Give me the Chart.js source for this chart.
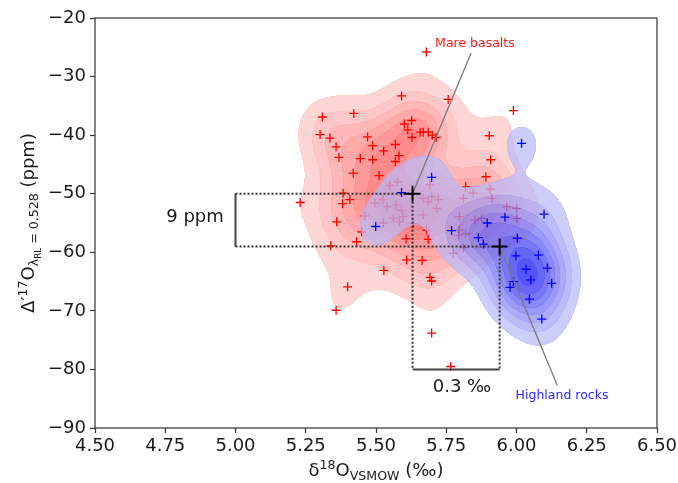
<!DOCTYPE html>
<html><head><meta charset="utf-8">
<script src="https://cdn.jsdelivr.net/npm/chart.js@4.4.0/dist/chart.umd.min.js"></script>
<style>html,body{margin:0;padding:0;background:#fff}#wrap{width:678px;height:483px;position:relative}</style>
</head><body><div id="wrap"><canvas id="c" width="678" height="483"></canvas></div>
<script>
// ---------------- data ----------------
const redX = [5.679,5.591,5.757,5.989,5.309,5.421,5.301,5.336,5.358,5.368,5.470,5.488,5.444,5.488,5.527,5.569,5.582,5.569,5.601,5.627,
  5.613,5.628,5.657,5.668,5.686,5.700,5.714,5.419,5.511,5.903,5.908,5.891,5.819,5.383,5.407,5.381,5.360,5.431,5.339,5.607,
  5.686,5.230,5.633,5.609,5.664,5.528,5.692,5.698,5.399,5.358,5.698,5.766,5.550,5.576,5.496,5.524,5.540,5.571,5.562,5.583,
  5.526,5.461,5.449,5.722,5.680,5.811,5.846,5.906,5.912,5.965,6.001,6.001,5.852,5.796,5.819,5.775,5.811,5.668,5.686,
  5.698,5.716,5.668,5.597,5.591,5.692,5.797,5.876,5.793];
const redY = [-25.8,-33.3,-33.9,-35.8,-36.9,-36.3,-39.9,-40.5,-42.0,-43.8,-40.3,-41.8,-44.0,-44.2,-42.7,-41.6,-43.5,-44.5,-38.1,-37.5,
  -39.1,-40.4,-39.5,-39.5,-39.5,-40.0,-40.4,-46.5,-46.9,-40.1,-44.2,-47.1,-48.8,-49.9,-51.0,-51.7,-54.8,-58.2,-58.9,-57.7,
  -57.8,-51.5,-55.1,-61.3,-61.4,-63.1,-64.3,-64.9,-65.9,-69.9,-73.8,-79.5,-48.6,-48.0,-51.6,-51.0,-52.2,-51.9,-54.2,-54.8,
  -55.0,-53.8,-56.5,-51.0,-56.2,-50.8,-49.9,-49.2,-50.8,-52.2,-52.5,-54.2,-54.5,-56.2,-56.8,-60.2,-59.2,-50.8,-51.4,
  -50.5,-52.5,-53.6,-53.9,-52.8,-48.5,-53.9,-54.2,-57.1];
const blueX = [6.018,5.591,5.698,5.499,5.769,5.896,5.959,6.098,5.864,5.882,6.003,5.998,6.078,6.034,6.110,6.051,6.125,5.977,5.989,6.046,6.090];
const blueY = [-41.4,-49.8,-47.2,-55.6,-56.3,-55.0,-54.0,-53.5,-57.5,-58.6,-57.6,-60.6,-60.5,-62.9,-62.7,-64.7,-65.3,-66.0,-65.0,-68.0,-71.4];
const meanX = [5.63, 5.94];
const meanY = [-50, -59];
const bracketX = 5.0;
const bracketBottom = -80;
const xTicks = [4.5,4.75,5.0,5.25,5.5,5.75,6.0,6.25,6.5];
const xTickLabels = ['4.50','4.75','5.00','5.25','5.50','5.75','6.00','6.25','6.50'];
const yTicks = [-90,-80,-70,-60,-50,-40,-30,-20];
const yTickLabels = ['\u221290','\u221280','\u221270','\u221260','\u221250','\u221240','\u221230','\u221220'];
const noteText = ['9 ppm', '0.3 \u2030', 'Mare basalts', 'Highland rocks'];
const noteX = [4.856, 5.806, 5.852, 6.162];
const noteY = [-54.8, -83.8, -24.95, -85.05];
const pointerMare = [5.838, -26.0];
const pointerHigh = [6.145, -82.7];

const FONT = '"DejaVu Sans", "Liberation Sans", sans-serif';
const pts = (xs, ys) => xs.map((x, i) => ({x, y: ys[i]}));
const seg = (x1, y1, x2, y2) => [{x: x1, y: y1}, {x: x2, y: y2}];

const dotted = {showLine: true, pointRadius: 0, borderColor: '#333', borderWidth: 2, borderDash: [2, 2], borderCapStyle: 'butt', fill: false, order: 3};
const solid = {showLine: true, pointRadius: 0, borderColor: '#444', borderWidth: 2, fill: false, order: 3};
const pointer = {showLine: true, pointRadius: 0, borderColor: '#7a7a7a', borderWidth: 1.3, fill: false, order: 2};

const datasets = [
  {label: 'Mare basalts', data: pts(redX, redY), showLine: false, pointStyle: 'cross', pointRadius: 4.5,
   pointBorderColor: '#ff0000', pointBorderWidth: 1.3, order: 6,
   kde: {c0: [255, 214, 214], c1: [255, 108, 108], alpha: 1}},
  {label: 'Highland rocks', data: pts(blueX, blueY), showLine: false, pointStyle: 'cross', pointRadius: 4.5,
   pointBorderColor: '#0000ff', pointBorderWidth: 1.3, order: 4,
   kde: {c0: [186, 186, 248], c1: [20, 20, 242], alpha: 0.72}},
  Object.assign({label: 'g1', data: seg(bracketX, meanY[0], meanX[0], meanY[0])}, dotted),
  Object.assign({label: 'g2', data: seg(meanX[0], meanY[0], meanX[0], bracketBottom)}, dotted),
  Object.assign({label: 'g3', data: seg(bracketX, meanY[1], meanX[1], meanY[1])}, dotted),
  Object.assign({label: 'g4', data: seg(meanX[1], meanY[1], meanX[1], bracketBottom)}, dotted),
  Object.assign({label: 'g5', data: seg(bracketX, meanY[0], bracketX, meanY[1])}, solid),
  Object.assign({label: 'g6', data: seg(meanX[0], bracketBottom, meanX[1], bracketBottom)}, solid),
  Object.assign({label: 'p1', data: seg(pointerMare[0], pointerMare[1], meanX[0], meanY[0])}, pointer),
  Object.assign({label: 'p2', data: seg(meanX[1], meanY[1], pointerHigh[0], pointerHigh[1])}, pointer),
  {label: 'means', data: pts(meanX, meanY), showLine: false, pointStyle: 'cross', pointRadius: 8,
   pointBorderColor: '#000', pointBorderWidth: 2, order: 1}
];

// ---------------- KDE (product Gaussian, Scott bandwidth per axis, linear "nice" levels) ----------------
function quantile(sortedArr, p) {
  const pos = (sortedArr.length - 1)*p, lo = Math.floor(pos), hi = Math.ceil(pos);
  return sortedArr[lo] + (sortedArr[hi] - sortedArr[lo])*(pos - lo);
}
function scottBw(v) {
  const n = v.length, m = v.reduce((s, t) => s + t, 0)/n;
  const sd = Math.sqrt(v.reduce((s, t) => s + (t - m)*(t - m), 0)/(n - 1));
  const s = v.slice().sort((a, b) => a - b);
  const iqr = (quantile(s, 0.75) - quantile(s, 0.25))/1.349;
  return 1.059*Math.min(sd, iqr)*Math.pow(n, -0.2);
}
function niceLevels(vmax, nbins) {
  const raw = vmax/nbins, sc = Math.pow(10, Math.floor(Math.log10(raw)));
  for (const m of [1, 2, 2.5, 5, 10, 20]) {
    const step = m*sc, k = Math.ceil(vmax/step - 1e-9);
    if (k <= nbins) { const out = []; for (let i = 0; i <= k; i++) out.push(i*step); return out; }
  }
}
const kdeCache = new Map();
function buildKde(chart, xs, ys, st) {
  const a = chart.chartArea, sx = chart.scales.x, sy = chart.scales.y;
  const L = Math.round(a.left), T = Math.round(a.top);
  const W = Math.round(a.right) - L, H = Math.round(a.bottom) - T;
  const gx = new Float64Array(W), gy = new Float64Array(H);
  for (let i = 0; i < W; i++) gx[i] = sx.getValueForPixel(L + i + 0.5);
  for (let j = 0; j < H; j++) gy[j] = sy.getValueForPixel(T + j + 0.5);
  const n = xs.length, bx = scottBw(xs), by = scottBw(ys);
  const norm = 1/(n*2*Math.PI*bx*by);
  const d = new Float64Array(W*H);
  const ex = new Float64Array(W);
  for (let k = 0; k < n; k++) {
    for (let i = 0; i < W; i++) { const u = (gx[i] - xs[k])/bx; ex[i] = u*u < 50 ? Math.exp(-0.5*u*u) : 0; }
    for (let j = 0; j < H; j++) {
      const v = (gy[j] - ys[k])/by;
      if (v*v > 50) continue;
      const ey = Math.exp(-0.5*v*v)*norm, row = j*W;
      for (let i = 0; i < W; i++) d[row + i] += ex[i]*ey;
    }
  }
  let zmax = 0; for (let p = 0; p < W*H; p++) if (d[p] > zmax) zmax = d[p];
  const levels = niceLevels(zmax, 11);
  const K = levels.length - 1;
  const band = new Uint8Array(W*H);
  for (let p = 0; p < W*H; p++) {
    let b = 0; const v = d[p];
    for (let l = 1; l < K; l++) if (v >= levels[l]) b = l;
    band[p] = b;
  }
  const off = document.createElement('canvas');
  off.width = W; off.height = H;
  const octx = off.getContext('2d');
  const img = octx.createImageData(W, H);
  const px = img.data;
  const span = Math.max(1, K - 2);
  for (let j = 0; j < H; j++) for (let i = 0; i < W; i++) {
    const p = j*W + i, b = band[p];
    if (!b) continue;
    let t = (b - 1)/span;
    const edge = (i > 0 && band[p-1] < b) || (i < W-1 && band[p+1] < b) || (j > 0 && band[p-W] < b) || (j < H-1 && band[p+W] < b);
    if (edge) t += 0.45/span;
    t = Math.min(1, t);
    px[p*4]   = Math.round(st.c0[0] + (st.c1[0] - st.c0[0])*t);
    px[p*4+1] = Math.round(st.c0[1] + (st.c1[1] - st.c0[1])*t);
    px[p*4+2] = Math.round(st.c0[2] + (st.c1[2] - st.c0[2])*t);
    px[p*4+3] = Math.round(st.alpha*255);
  }
  octx.putImageData(img, 0, 0);
  return {canvas: off, L, T};
}

const kdePlugin = {
  id: 'kde',
  beforeDatasetDraw(chart, args) {
    const ds = chart.data.datasets[args.index];
    if (!ds.kde) return;
    if (!kdeCache.has(args.index)) {
      const xs = ds.data.map(p => p.x), ys = ds.data.map(p => p.y);
      kdeCache.set(args.index, buildKde(chart, xs, ys, ds.kde));
    }
    const k = kdeCache.get(args.index);
    chart.ctx.drawImage(k.canvas, k.L, k.T);
  }
};

function drawRich(ctx, parts, cx, cy, rot) {
  ctx.save();
  ctx.translate(cx, cy); ctx.rotate(rot);
  ctx.textAlign = 'left'; ctx.textBaseline = 'alphabetic'; ctx.fillStyle = '#1a1a1a';
  let w = 0; const ws = [];
  for (const p of parts) { ctx.font = p[1] + 'px ' + FONT; const m = ctx.measureText(p[0]).width; ws.push(m); w += m; }
  let x = -w/2;
  parts.forEach((p, i) => { ctx.font = p[1] + 'px ' + FONT; ctx.fillText(p[0], x, p[2]); x += ws[i]; });
  ctx.restore();
}

const decorPlugin = {
  id: 'decor',
  afterDraw(chart) {
    const ctx = chart.ctx, a = chart.chartArea, sx = chart.scales.x, sy = chart.scales.y;
    ctx.save();
    ctx.strokeStyle = '#333'; ctx.lineWidth = 1.2;
    ctx.strokeRect(a.left, a.top, a.right - a.left, a.bottom - a.top);
    ctx.restore();
    const styles = [
      {font: '18px ' + FONT, color: '#1a1a1a'},
      {font: '18px ' + FONT, color: '#1a1a1a'},
      {font: '12.5px ' + FONT, color: '#ff1a1a'},
      {font: '12.5px ' + FONT, color: '#2b2bff'}
    ];
    ctx.save();
    ctx.textAlign = 'center'; ctx.textBaseline = 'alphabetic';
    noteText.forEach((t, i) => {
      ctx.font = styles[i].font; ctx.fillStyle = styles[i].color;
      ctx.fillText(t, sx.getPixelForValue(noteX[i]), sy.getPixelForValue(noteY[i]));
    });
    ctx.restore();
    drawRich(ctx, [['\u03b4', 18, 0], ['18', 12.6, -7], ['O', 18, 0], ['VSMOW', 12.6, 3.5], [' (\u2030)', 18, 0]],
      (a.left + a.right)/2, 476, 0);
    drawRich(ctx, [['\u0394', 18, 0], ['\u2032', 18, 0], ['17', 12.6, -7], ['O', 18, 0], ['\u03bb', 12.6, 4], ['RL', 8.8, 7],
      [' = 0.528', 12.6, 4], [' (ppm)', 18, 0]], 34, (a.top + a.bottom)/2, -Math.PI/2);
  }
};

const tickFont = {family: FONT, size: 18};
new Chart(document.getElementById('c'), {
  type: 'scatter',
  data: {datasets},
  plugins: [kdePlugin, decorPlugin],
  options: {
    responsive: false, animation: false, devicePixelRatio: 1, events: [],
    layout: {padding: {left: 0, top: 18, right: 21, bottom: 0}},
    plugins: {legend: {display: false}, tooltip: {enabled: false}},
    scales: {
      x: {
        type: 'linear', min: 4.5, max: 6.5,
        afterBuildTicks: s => { s.ticks = xTicks.map(v => ({value: v})); },
        afterFit: s => { s.height = 55; s.paddingLeft = 0; s.paddingRight = 0; },
        ticks: {autoSkip: false, maxRotation: 0, padding: 3, color: '#1a1a1a', font: tickFont,
                callback: (v, i) => xTickLabels[i]},
        grid: {display: true, drawOnChartArea: false, drawTicks: true, tickLength: 5, tickColor: '#333', tickWidth: 1.2},
        border: {display: false}
      },
      y: {
        type: 'linear', min: -90, max: -20,
        afterBuildTicks: s => { s.ticks = yTicks.map(v => ({value: v})); },
        afterFit: s => { s.width = 95; s.paddingTop = 0; s.paddingBottom = 0; },
        ticks: {autoSkip: false, padding: 4, color: '#1a1a1a', font: tickFont,
                callback: (v, i) => yTickLabels[i]},
        grid: {display: true, drawOnChartArea: false, drawTicks: true, tickLength: 5, tickColor: '#333', tickWidth: 1.2},
        border: {display: false}
      }
    }
  }
});
</script>
</body></html>
